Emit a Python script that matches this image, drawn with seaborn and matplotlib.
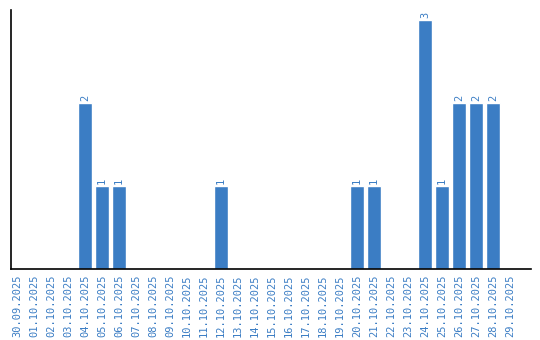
import matplotlib
matplotlib.use("Agg")
import matplotlib.pyplot as plt
import seaborn as sns
import pandas as pd

dates = ["30.09.2025", "01.10.2025", "02.10.2025", "03.10.2025", "04.10.2025",
         "05.10.2025", "06.10.2025", "07.10.2025", "08.10.2025", "09.10.2025",
         "10.10.2025", "11.10.2025", "12.10.2025", "13.10.2025", "14.10.2025",
         "15.10.2025", "16.10.2025", "17.10.2025", "18.10.2025", "19.10.2025",
         "20.10.2025", "21.10.2025", "22.10.2025", "23.10.2025", "24.10.2025",
         "25.10.2025", "26.10.2025", "27.10.2025", "28.10.2025", "29.10.2025"]
counts = [0, 0, 0, 0, 2, 1, 1, 0, 0, 0,
          0, 0, 1, 0, 0, 0, 0, 0, 0, 0,
          1, 1, 0, 0, 3, 1, 2, 2, 2, 0]

df = pd.DataFrame({"date": dates, "count": counts})

sns.set_style("white")
plt.rcParams['font.family'] = ['DejaVu Sans Mono', 'DejaVu Sans']
blue = "#3b7dc4"

fig = plt.figure(figsize=(5.4, 3.4), dpi=100)
ax = fig.add_axes([10.5 / 540, 71 / 340, (531 - 10.5) / 540, (269 - 10) / 340])
sns.barplot(data=df, x="date", y="count", color=blue, saturation=1, width=0.82, ax=ax)

for i, v in enumerate(counts):
    if v > 0:
        ax.text(i, v + 0.02, str(v), rotation=90, ha="center", va="bottom",
                color=blue, fontsize=7.5)

ax.set_xlim(-0.38, 30.22)
ax.set_ylim(0, 3.12)
ax.set_xlabel("")
ax.set_ylabel("")
ax.set_yticks([])
ax.tick_params(axis="x", length=0, pad=4, labelsize=7.5, labelcolor=blue, rotation=90)
for s in ["top", "right"]:
    ax.spines[s].set_visible(False)
for s in ["left", "bottom"]:
    ax.spines[s].set_color("black")
    ax.spines[s].set_linewidth(1.2)

fig.savefig("out.png", dpi=100)
